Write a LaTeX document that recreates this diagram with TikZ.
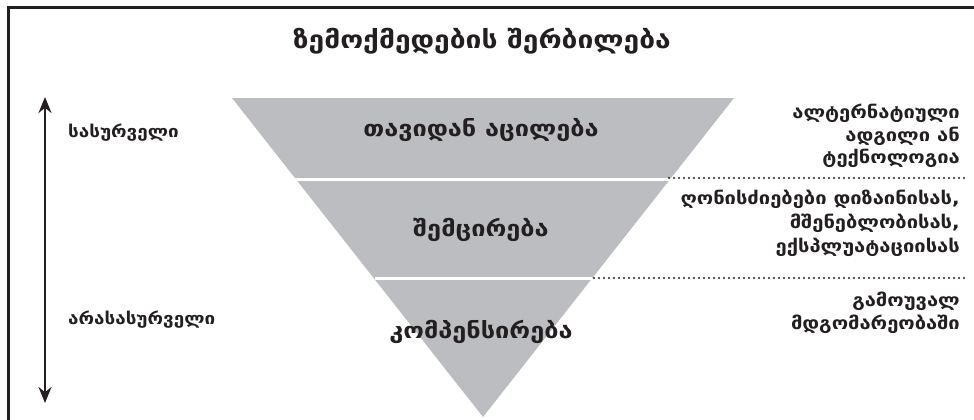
\documentclass[tikz,border=0pt]{standalone}
\usepackage{fontspec}
\usepackage{tikz}
\usetikzlibrary{arrows.meta}
\usetikzlibrary{positioning}
\setmainfont{DejaVu Sans}
\newfontfamily\geo{DejaVu Sans}[FakeStretch=1.15]
\definecolor{ink}{HTML}{231F20}
\definecolor{pyr}{HTML}{BCBDC0}
\tikzset{
  frame/.style = {draw=ink, line width=3pt},
  pyramid/.style = {fill=pyr},
  split/.style = {draw=white, line width=3pt},
  leader/.style = {draw=ink, line width=2.2pt, dash pattern=on 0pt off 5pt, line cap=round},
  scale arrow/.style = {draw=ink, line width=2.6pt, {Stealth[length=16pt,width=13pt]}-{Stealth[length=16pt,width=13pt]}},
  title/.style = {text=ink, font=\geo\bfseries\fontsize{24.5}{28}\selectfont},
  level/.style = {text=ink, font=\geo\bfseries\fontsize{22}{26}\selectfont},
  side/.style = {text=ink, font=\geo\bfseries\fontsize{16.4}{20}\selectfont, inner sep=0},
  note/.style = {text=ink, font=\geo\bfseries\fontsize{17.5}{22.5}\selectfont, align=right, inner sep=0}
}

\begin{document}
\begin{tikzpicture}[x=1pt, y=-1pt]
    \useasboundingbox (0, 0) rectangle (974, 420);

    % frame
    \draw [frame] (8, 420) -- (8, 8) -- (974, 8);

    % pyramid
    \coordinate (topleft) at (232, 98);
    \coordinate (topright) at (734, 98);
    \coordinate (apex) at (483, 417);
    \fill [pyramid] (topleft) -- (topright) -- (apex) -- cycle;

    \coordinate (cutAl) at (292, 179);
    \coordinate (cutAr) at (672, 179);
    \coordinate (cutBl) at (375, 278);
    \coordinate (cutBr) at (592, 278);
    \draw [split] (cutAl) -- (cutAr);
    \draw [split] (cutBl) -- (cutBr);

    % dotted leaders
    \coordinate (leadA) at (966, 178);
    \coordinate (leadB) at (964, 278);
    \draw [leader] ([xshift=-3pt, yshift=1pt]cutAr) -- (leadA);
    \draw [leader] ([xshift=2pt]cutBr) -- (leadB);

    % scale
    \coordinate (scaletop) at (45, 97);
    \coordinate (scalebot) at (45, 403);
    \draw [scale arrow] (scaletop) -- (scalebot);

    \node [title] (heading) at (482, 41) {ზემოქმედების შერბილება};

    \node [level] (avoid) at (481, 130) {თავიდან აცილება};
    \node [level] (reduce) at (481, 230) {შემცირება};
    \node [level] (offset) at (481, 332) {კომპენსირება};

    \node [side, anchor=west] (good) at (68, 133) {სასურველი};
    \node [side, anchor=west] (bad) at (68, 320) {არასასურველი};

    \node [note, anchor=north east] (altern) at (960, 104) {ალტერნატიული\\ადგილი ან\\ტექნოლოგია};
    \node [note, anchor=north east] (measures) at (960, 190) {ღონისძიებები დიზაინისას,\\[1.5pt]მშენებლობისას,\\[1.5pt]ექსპლუატაციისას};
    \node [note, anchor=north east] (deadlock) at (960, 292) {გამოუვალ\\მდგომარეობაში};

  \end{tikzpicture}
\end{document}
